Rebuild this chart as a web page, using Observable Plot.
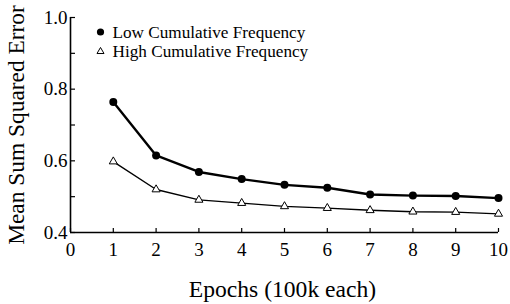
<!DOCTYPE html>
<html><head><meta charset="utf-8">
<script src="https://cdn.jsdelivr.net/npm/d3@7"></script>
<script src="https://cdn.jsdelivr.net/npm/@observablehq/plot@0.6"></script>
<style>
body{margin:0;background:#fff}
svg, svg text { font-family: "Liberation Serif", "Times New Roman", serif !important; }
</style>
</head><body><div id="chart"></div>
<script>
const epochs = [1, 2, 3, 4, 5, 6, 7, 8, 9, 10];
const lowFreq = [0.764, 0.615, 0.569, 0.549, 0.533, 0.525, 0.506, 0.503, 0.502, 0.496];
const highFreq = [0.598, 0.520, 0.491, 0.482, 0.473, 0.468, 0.462, 0.458, 0.457, 0.452];
const seriesNames = ["Low Cumulative Frequency", "High Cumulative Frequency"];
const xTicks = [0, 1, 2, 3, 4, 5, 6, 7, 8, 9, 10];
const yTicks = [0.4, 0.5, 0.6, 0.7, 0.8, 0.9, 1.0];
const yTickLabels = ["0.4", "", "0.6", "", "0.8", "", "1.0"];
const xTitle = "Epochs (100k each)";
const yTitle = "Mean Sum Squared Error";

const low = epochs.map((e, i) => ({epoch: e, value: lowFreq[i]}));
const high = epochs.map((e, i) => ({epoch: e, value: highFreq[i]}));
const font = "Liberation Serif";

const chart = Plot.plot({
  width: 510,
  height: 304,
  marginLeft: 70,
  marginRight: 12,
  marginTop: 17,
  marginBottom: 72,
  style: {fontFamily: font, background: "#fff", color: "#000"},
  x: {domain: [0, 10]},
  y: {domain: [0.4, 1.0]},
  marks: [
    // inward tick marks (shifted inside the frame)
    Plot.axisX({ticks: xTicks, tickSize: 4, dy: -4, tickFormat: () => "", label: null, strokeWidth: 1.2}),
    Plot.axisY({ticks: yTicks, tickSize: 5, dx: 5, tickFormat: () => "", label: null, strokeWidth: 1.2}),
    // tick labels
    Plot.axisX({ticks: xTicks, tickSize: 0, tickPadding: 9.5, fontSize: 19, fontFamily: font, tickFormat: d => String(d), label: null}),
    Plot.axisY({ticks: yTicks, tickSize: 0, tickPadding: 3, fontSize: 19, fontFamily: font, tickFormat: d => yTickLabels[yTicks.indexOf(d)] ?? "", label: null}),
    Plot.ruleX([0], {stroke: "#000", strokeWidth: 1.6}),
    Plot.ruleY([0.4], {stroke: "#000", strokeWidth: 1.6}),
    Plot.line(low, {x: "epoch", y: "value", stroke: "#000", strokeWidth: 2.4}),
    Plot.dot(low, {x: "epoch", y: "value", r: 4, fill: "#000", stroke: "none"}),
    Plot.line(high, {x: "epoch", y: "value", stroke: "#000", strokeWidth: 1.4}),
    Plot.dot(high, {x: "epoch", y: "value", r: 3, symbol: "triangle", fill: "#fff", stroke: "#000", strokeWidth: 1}),
    // legend
    Plot.dot([seriesNames[0]], {frameAnchor: "top-left", dx: 30, dy: 14.5, r: 3.6, fill: "#000", stroke: "none"}),
    Plot.dot([seriesNames[1]], {frameAnchor: "top-left", dx: 30, dy: 34, r: 2.6, symbol: "triangle", fill: "#fff", stroke: "#000", strokeWidth: 1}),
    Plot.text([seriesNames[0]], {text: d => d, frameAnchor: "top-left", dx: 42, dy: 14.5, textAnchor: "start", lineAnchor: "middle", fontSize: 17.2, fontFamily: font, fill: "#000"}),
    Plot.text([seriesNames[1]], {text: d => d, frameAnchor: "top-left", dx: 42, dy: 34, textAnchor: "start", lineAnchor: "middle", fontSize: 17.2, fontFamily: font, fill: "#000"}),
    // axis titles
    Plot.text([xTitle], {text: d => d, frameAnchor: "bottom", dx: -2, dy: 64, textAnchor: "middle", lineAnchor: "bottom", fontSize: 23.6, fontFamily: font, fill: "#000"}),
    Plot.text([yTitle], {text: d => d, frameAnchor: "left", dx: -47, textAnchor: "middle", lineAnchor: "bottom", rotate: -90, fontSize: 23.4, fontFamily: font, fill: "#000"})
  ]
});
document.getElementById("chart").appendChild(chart);
</script>
</body></html>
